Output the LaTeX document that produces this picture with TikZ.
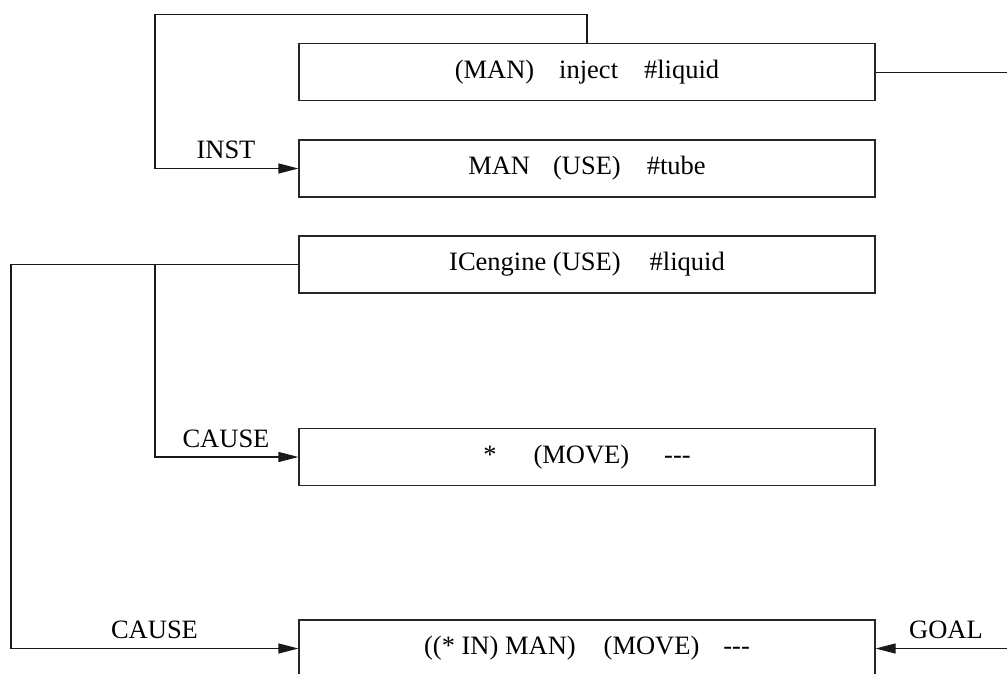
\documentclass[tikz,border=0pt]{standalone}
\usepackage{fontspec}
\setmainfont{Liberation Serif}
\usetikzlibrary{arrows.meta}
\begin{document}
\begin{tikzpicture}[x=1pt,y=-1pt,
  txt/.style={font=\fontsize{26.5}{30}\selectfont},
  frame/.style={txt, draw=black!85, line width=1.1pt, minimum width=576pt,
    minimum height=57pt, inner sep=0pt},
  link/.style={draw=black!90, line width=1.1pt},
  arr/.style={link, -{Triangle[length=20pt,width=10pt]}},
  rel/.style={txt, anchor=base, inner sep=0pt}]
\useasboundingbox (0,0) rectangle (1007,673);
\clip (0,0) rectangle (1007,673);

% concept frames
\node[frame] (inj)  at (587,72.3)  {(MAN)\hspace{25pt}inject\hspace{26pt}\#liquid};
\node[frame] (tube) at (587,168.5) {MAN\hspace{23pt}(USE)\hspace{26pt}\#tube};
\node[frame] (ice)  at (587,264.5) {ICengine (USE)\hspace{29pt}\#liquid};
\node[frame] (mv1)  at (587,457)   {*\hspace{37pt}(MOVE)\hspace{35pt}-{}-{}-};
\node[frame] (mv2)  at (587,648.5) {((* IN) MAN)\hspace{28pt}(MOVE)\hspace{24pt}-{}-{}-\hspace{34pt}};

% routing points
\coordinate (loop) at (155,14.5);
\coordinate (rt)   at (1007,72.3);
\coordinate (far)  at (11,264.5);
\coordinate (jn)   at (155,264.5);
\coordinate (gin)  at (1007,648.5);

% connectors
\draw[arr] (inj.north) |- (loop) |- (tube.west);
\draw[link] (inj.east) -- (rt);
\draw[arr] (ice.west) -- (far) |- (mv2.west);
\draw[arr] (jn) |- (mv1.west);
\draw[arr] (gin) -- (mv2.east);

% relation labels
\node[rel] (linst)  at (226,158) {INST};
\node[rel] (lcaus1) at (226,447) {CAUSE};
\node[rel] (lcaus2) at (154.5,638.5) {CAUSE};
\node[rel] (lgoal)  at (946,638.5) {GOAL};
\end{tikzpicture}
\end{document}
